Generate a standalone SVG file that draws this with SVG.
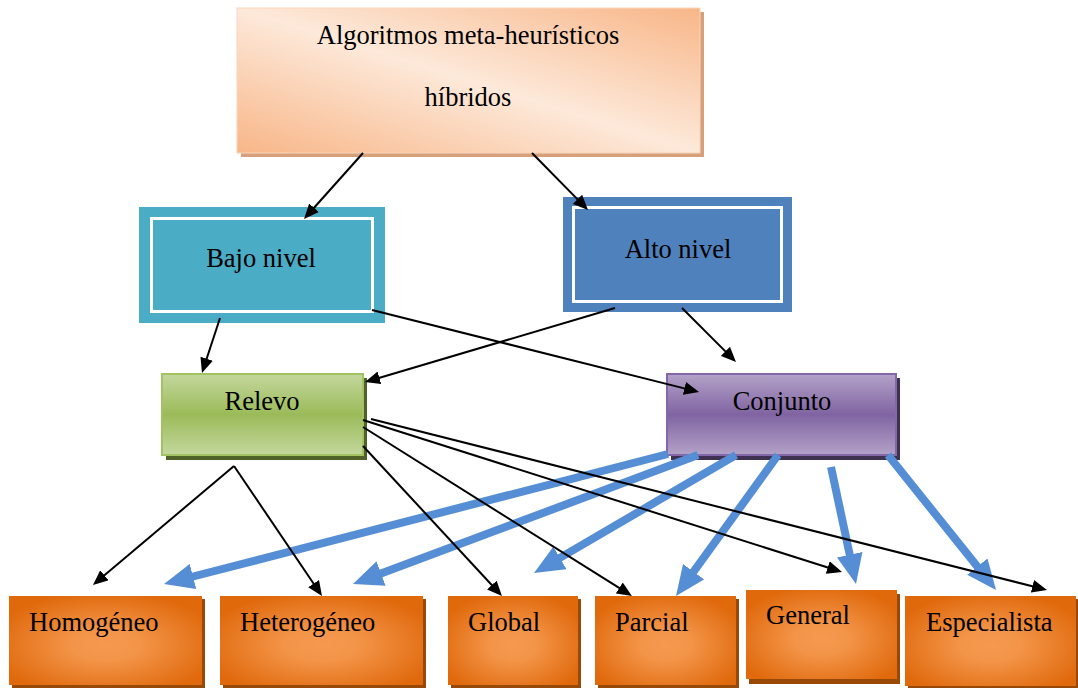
<svg xmlns="http://www.w3.org/2000/svg" width="1078" height="688" viewBox="0 0 1078 688">
  <defs>
    <linearGradient id="gPeach" x1="0" y1="1" x2="1" y2="0">
      <stop offset="0" stop-color="#f8b688"/>
      <stop offset="0.5" stop-color="#fde9da"/>
      <stop offset="1" stop-color="#f8b688"/>
    </linearGradient>
    <linearGradient id="gGreen" x1="0" y1="0" x2="0" y2="1">
      <stop offset="0" stop-color="#c4d79d"/>
      <stop offset="0.5" stop-color="#9bbb59"/>
      <stop offset="1" stop-color="#c4d79d"/>
    </linearGradient>
    <linearGradient id="gPurple" x1="0" y1="0" x2="0" y2="1">
      <stop offset="0" stop-color="#b3a2c8"/>
      <stop offset="0.5" stop-color="#8064a2"/>
      <stop offset="1" stop-color="#b3a2c8"/>
    </linearGradient>
    <radialGradient id="gOrange" cx="0.5" cy="0.55" r="0.6">
      <stop offset="0" stop-color="#f69a50"/>
      <stop offset="0.3" stop-color="#f39448"/>
      <stop offset="1" stop-color="#e0690c"/>
    </radialGradient>
    <marker id="arrBlack" markerUnits="userSpaceOnUse" markerWidth="15" markerHeight="13" viewBox="0 0 15 13" refX="5" refY="6.5" orient="auto">
      <path d="M0,0 L15,6.5 L0,13 z" fill="#000"/>
    </marker>
    <marker id="arrBlue" markerUnits="userSpaceOnUse" markerWidth="30" markerHeight="26" viewBox="0 0 30 26" refX="8" refY="13" orient="auto">
      <path d="M0,0 L30,13 L0,26 z" fill="#558ed5"/>
    </marker>
  </defs>
  <style>
    text { font-family: "Liberation Serif", "Times New Roman", serif; font-size: 26.5px; fill: #000; }
    .mid { text-anchor: middle; }
    .thin { stroke: #000; stroke-width: 2; fill: none; marker-end: url(#arrBlack); }
    .thick { stroke: #558ed5; stroke-width: 8; fill: none; marker-end: url(#arrBlue); }
    .leafShadow { fill: #984807; }
    .leaf { fill: url(#gOrange); }
  </style>

  <!-- root node -->
  <g id="node-root">
    <rect x="241" y="12" width="463" height="145" fill="#d5a07a"/>
    <rect x="237" y="8" width="463" height="145" fill="url(#gPeach)" stroke="#fbd5bb" stroke-width="1"/>
    <text class="mid" x="468" y="44">Algoritmos meta-heurísticos</text>
    <text class="mid" x="468" y="106">híbridos</text>
  </g>

  <!-- second level -->
  <g id="node-bajo">
    <rect x="139" y="207" width="246" height="116" fill="#4bacc6"/>
    <rect x="151.5" y="218.5" width="221" height="93" fill="none" stroke="#fff" stroke-width="3"/>
    <text class="mid" x="261" y="267">Bajo nivel</text>
  </g>
  <g id="node-alto">
    <rect x="563" y="197" width="229" height="115" fill="#4f81bd"/>
    <rect x="573.5" y="207.5" width="208" height="94" fill="none" stroke="#fff" stroke-width="3"/>
    <text class="mid" x="678" y="258">Alto nivel</text>
  </g>

  <!-- third level -->
  <g id="node-relevo">
    <rect x="166" y="378" width="201" height="82" fill="#4f6228"/>
    <rect x="162" y="374" width="201" height="81" fill="url(#gGreen)" stroke="#a3c262" stroke-width="2"/>
    <text class="mid" x="262" y="410">Relevo</text>
  </g>
  <g id="node-conjunto">
    <rect x="671" y="378" width="229" height="82" fill="#3f3151"/>
    <rect x="667" y="374" width="229" height="81" fill="url(#gPurple)" stroke="#8467a6" stroke-width="2"/>
    <text class="mid" x="782" y="410">Conjunto</text>
  </g>

  <!-- leaves -->
  <g id="node-homogeneo">
    <rect class="leafShadow" x="12" y="599" width="193" height="89"/>
    <rect class="leaf" x="9" y="596" width="193" height="89"/>
    <text x="29" y="631">Homogéneo</text>
  </g>
  <g id="node-heterogeneo">
    <rect class="leafShadow" x="223" y="599" width="203" height="89"/>
    <rect class="leaf" x="220" y="596" width="203" height="89"/>
    <text x="240" y="631">Heterogéneo</text>
  </g>
  <g id="node-global">
    <rect class="leafShadow" x="451" y="599" width="130" height="89"/>
    <rect class="leaf" x="448" y="596" width="130" height="89"/>
    <text x="468" y="631">Global</text>
  </g>
  <g id="node-parcial">
    <rect class="leafShadow" x="598" y="599" width="141" height="89"/>
    <rect class="leaf" x="595" y="596" width="141" height="89"/>
    <text x="615" y="631">Parcial</text>
  </g>
  <g id="node-general">
    <rect class="leafShadow" x="749" y="594" width="151" height="90"/>
    <rect class="leaf" x="746" y="590" width="151" height="89"/>
    <text x="766" y="624">General</text>
  </g>
  <g id="node-especialista">
    <rect class="leafShadow" x="908" y="599" width="170" height="89"/>
    <rect class="leaf" x="905" y="596" width="171" height="90"/>
    <text x="926" y="631">Especialista</text>
  </g>

  <!-- connectors -->
  <g id="connectors">
    <line class="thin" x1="363" y1="153" x2="310.7" y2="211.5"/>
    <line class="thin" x1="532" y1="153" x2="581.0" y2="202.9"/>
    <line class="thin" x1="220" y1="318" x2="205.1" y2="363.5"/>
    <line class="thin" x1="372" y1="310" x2="689.3" y2="389.6"/>
    <line class="thin" x1="615" y1="308" x2="374.6" y2="379.2"/>
    <line class="thin" x1="682" y1="308" x2="728.9" y2="354.9"/>

    <line class="thick" x1="668" y1="454" x2="185.3" y2="578.5"/>
    <line class="thick" x1="698" y1="455" x2="373.6" y2="576.3"/>
    <line class="thick" x1="736" y1="455" x2="553.0" y2="561.9"/>
    <line class="thick" x1="778" y1="455" x2="688.9" y2="578.2"/>
    <line class="thick" x1="831" y1="467" x2="851.4" y2="562.5"/>
    <line class="thick" x1="888" y1="455" x2="982.3" y2="572.8"/>

    <line class="thin" x1="234" y1="466" x2="100.6" y2="578.5"/>
    <line class="thin" x1="234" y1="466" x2="316.4" y2="587.7"/>
    <line class="thin" x1="363" y1="446" x2="495.2" y2="588.7"/>
    <line class="thin" x1="363" y1="427" x2="623.5" y2="590.7"/>
    <line class="thin" x1="363" y1="420" x2="832.5" y2="569.0"/>
    <line class="thin" x1="371" y1="419" x2="1037.3" y2="587.5"/>
  </g>
</svg>
